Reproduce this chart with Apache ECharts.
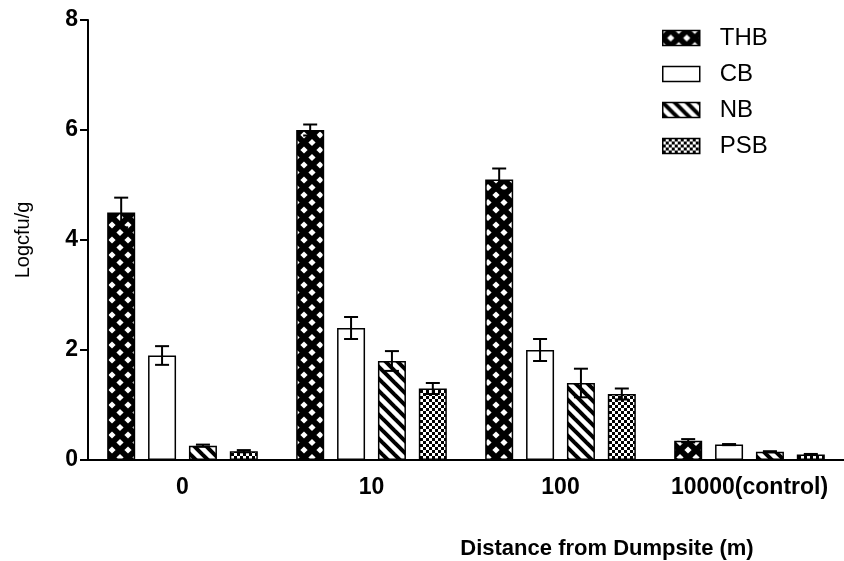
<!DOCTYPE html>
<html>
<head>
<meta charset="utf-8">
<script src="https://cdn.jsdelivr.net/npm/echarts@6/dist/echarts.min.js"></script>
<style>
  html, body { margin:0; padding:0; background:#fff; }
  #chart { width:844px; height:561px; }
</style>
</head>
<body>
<div id="chart"></div>
<script>
const categories = ['0', '10', '100', '10000(control)'];
const seriesNames = ['THB', 'CB', 'NB', 'PSB'];
const thb = [4.5, 6.0, 5.1, 0.35];
const thbErr = [0.27, 0.1, 0.2, 0.03];
const cb = [1.9, 2.4, 2.0, 0.28];
const cbErr = [0.17, 0.2, 0.2, 0.01];
const nb = [0.26, 1.8, 1.4, 0.15];
const nbErr = [0.02, 0.18, 0.26, 0.01];
const psb = [0.16, 1.3, 1.2, 0.1];
const psbErr = [0.02, 0.1, 0.1, 0.01];

const FONT = '"Liberation Sans", Arial, sans-serif';
const BAR_W = 28;
const BAR_GAP = 0.46;

function makeTile(w, h, draw) {
    let c = document.createElement('canvas');
    c.width = w; c.height = h;
    draw(c.getContext('2d'), w, h);
    return c;
}

// crosshatch: black with white diamonds
const thbTile = makeTile(16, 15, (ctx, w, h) => {
    ctx.fillStyle = '#000';
    ctx.fillRect(0, 0, w, h);
    ctx.fillStyle = '#fff';
    let d = 3.6;
    [[w / 2, h / 2], [0, 0], [w, 0], [0, h], [w, h]].forEach(p => {
        ctx.beginPath();
        ctx.moveTo(p[0], p[1] - d);
        ctx.lineTo(p[0] + d, p[1]);
        ctx.lineTo(p[0], p[1] + d);
        ctx.lineTo(p[0] - d, p[1]);
        ctx.closePath();
        ctx.fill();
    });
});
// diagonal stripes "\"
const nbTile = makeTile(12, 12, (ctx, w, h) => {
    ctx.fillStyle = '#fff';
    ctx.fillRect(0, 0, w, h);
    ctx.strokeStyle = '#000';
    ctx.lineWidth = 4;
    for (let k = -1; k <= 1; k++) {
        ctx.beginPath();
        ctx.moveTo(k * w - 2, -2);
        ctx.lineTo(k * w + w + 2, h + 2);
        ctx.stroke();
    }
});
// fine checkerboard
const psbTile = makeTile(6, 6, (ctx, w, h) => {
    ctx.fillStyle = '#fff';
    ctx.fillRect(0, 0, w, h);
    ctx.fillStyle = '#000';
    ctx.fillRect(0, 0, 3, 3);
    ctx.fillRect(3, 3, 3, 3);
});

const fills = [
    { image: thbTile, repeat: 'repeat' },
    '#fff',
    { image: nbTile, repeat: 'repeat' },
    { image: psbTile, repeat: 'repeat' }
];
const values = [thb, cb, nb, psb];
const errors = [thbErr, cbErr, nbErr, psbErr];

// offsets of each bar centre inside a category band
const gapPx = BAR_W * BAR_GAP;
const totalW = 4 * BAR_W + 3 * gapPx;
const offsets = [0, 1, 2, 3].map(i => -totalW / 2 + BAR_W / 2 + i * (BAR_W + gapPx));

let errData = [];
values.forEach((vals, s) => {
    vals.forEach((v, c) => {
        errData.push([c, v - errors[s][c], v + errors[s][c], s]);
    });
});

let seriesData = seriesNames.map((name, i) => ({
    type: 'bar',
    name: name,
    data: values[i],
    barWidth: BAR_W,
    barGap: (BAR_GAP * 100) + '%',
    itemStyle: {
        color: fills[i],
        borderColor: '#000',
        borderWidth: 1.5
    },
    emphasis: { disabled: true },
    z: 2
}));

seriesData.push({
    type: 'custom',
    name: 'err',
    data: errData,
    encode: { x: 0, y: [1, 2] },
    z: 5,
    silent: true,
    renderItem: (params, api) => {
        let cat = api.value(0);
        let s = api.value(3);
        let x = api.coord([cat, 0])[0] + offsets[s];
        let yLo = api.coord([cat, api.value(1)])[1];
        let yHi = api.coord([cat, api.value(2)])[1];
        let cap = 7;
        let style = { stroke: '#000', lineWidth: 2 };
        return {
            type: 'group',
            children: [
                { type: 'line', shape: { x1: x, y1: yLo, x2: x, y2: yHi }, style: style },
                { type: 'line', shape: { x1: x - cap, y1: yHi, x2: x + cap, y2: yHi }, style: style },
                { type: 'line', shape: { x1: x - cap, y1: yLo, x2: x + cap, y2: yLo }, style: style }
            ]
        };
    }
});

let myChart = echarts.init(document.getElementById('chart'));
let option = {
    backgroundColor: '#fff',
    animation: false,
    textStyle: { fontFamily: FONT },
    legend: {
        data: seriesNames,
        orient: 'vertical',
        left: 657,
        top: 21,
        align: 'left',
        icon: 'rect',
        itemWidth: 37,
        itemHeight: 15,
        itemGap: 12,
        selectedMode: false,
        itemStyle: { borderColor: '#000', borderWidth: 1.5 },
        textStyle: { fontFamily: FONT, fontSize: 24, color: '#000', padding: [0, 0, 0, 15], lineHeight: 24 }
    },
    grid: {
        left: 88,
        top: 20,
        width: 760,
        height: 440,
        containLabel: false
    },
    xAxis: {
        type: 'category',
        data: categories,
        axisLine: { lineStyle: { color: '#000', width: 2 } },
        axisTick: { alignWithLabel: true, length: 8, lineStyle: { color: '#000', width: 2 } },
        axisLabel: { interval: 0, hideOverlap: false, color: '#000', fontSize: 23, fontWeight: 'bold', margin: 16, fontFamily: FONT },
        splitLine: { show: false }
    },
    yAxis: {
        type: 'value',
        min: 0,
        max: 8,
        interval: 2,
        name: 'Logcfu/g',
        nameLocation: 'middle',
        nameGap: 55,
        nameRotate: 90,
        nameTextStyle: { color: '#000', fontSize: 20, fontFamily: FONT },
        axisLine: { show: true, lineStyle: { color: '#000', width: 2 } },
        axisTick: { show: true, length: 8, lineStyle: { color: '#000', width: 2 } },
        axisLabel: { color: '#000', fontSize: 23, fontWeight: 'bold', margin: 10, fontFamily: FONT },
        splitLine: { show: false }
    },
    graphic: [{
        type: 'text',
        x: 607,
        y: 549,
        style: {
            text: 'Distance from Dumpsite (m)',
            fontSize: 22,
            fontWeight: 'bold',
            fontFamily: FONT,
            fill: '#000',
            align: 'center',
            verticalAlign: 'middle'
        }
    }],
    series: seriesData
};
myChart.setOption(option);
</script>
</body>
</html>
